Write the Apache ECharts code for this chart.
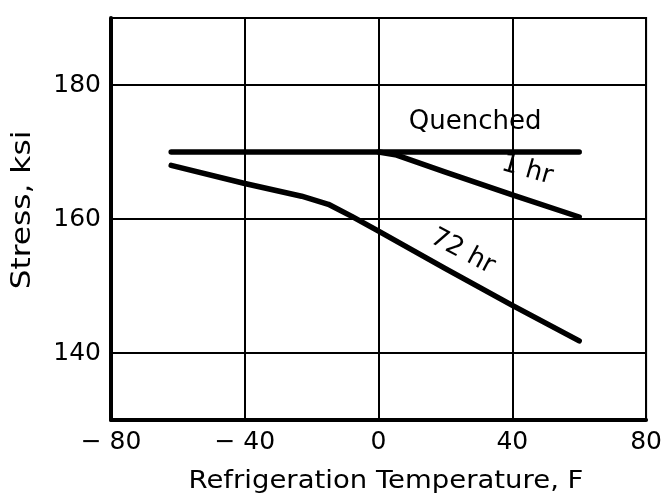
<!DOCTYPE html>
<html>
<head>
<meta charset="utf-8">
<script src="https://cdn.jsdelivr.net/npm/echarts@6/dist/echarts.min.js"></script>
<style>
html,body{margin:0;padding:0;background:#fff;}
#c{width:665px;height:501px;}
</style>
</head>
<body>
<div id="c"></div>
<script>
// ---- data ----
const xTicks = [-80, -40, 0, 40, 80];
const yTickLabels = [140, 160, 180];
const yGridValues = [140, 160, 180];

const tempQuenched = [-62, 0, 60];
const stressQuenched = [170, 170, 170];

const temp1hr = [0, 5, 20, 40, 60];
const stress1hr = [170, 169.6, 167, 163.6, 160.3];

const temp72hr = [-62, -40, -23, -15, -8, 0, 20, 40, 60];
const stress72hr = [168, 165.3, 163.4, 162.2, 160.4, 158.2, 152.6, 147.1, 141.8];

const seriesNames = ['Quenched', '1 hr', '72 hr'];
// label anchors in data coordinates
const labelAnchors = {
  'Quenched': { at: [28.9, 174.5], rotate: 0 },
  '1 hr': { at: [44.4, 167.3], rotate: -16 },
  '72 hr': { at: [25.1, 155.1], rotate: -28 }
};

const FONT = 'DejaVu Sans';
const zip = (xs, ys) => xs.map((x, i) => [x, ys[i]]);

function lineSeries(name, xs, ys, extra) {
  const a = labelAnchors[name];
  return Object.assign({
    name: name,
    type: 'line',
    data: zip(xs, ys),
    showSymbol: false,
    symbol: 'none',
    animation: false,
    lineStyle: { color: '#000', width: 5.5, cap: 'round', join: 'round' },
    markPoint: {
      symbol: 'circle',
      symbolSize: 1,
      itemStyle: { color: 'rgba(0,0,0,0)' },
      silent: true,
      animation: false,
      data: [{ coord: a.at, value: name }],
      label: {
        show: true,
        position: 'inside',
        formatter: name,
        rotate: a.rotate,
        color: '#000',
        fontFamily: FONT,
        fontSize: 26
      }
    }
  }, extra || {});
}

const chart = echarts.init(document.getElementById('c'), null, { renderer: 'canvas' });
chart.setOption({
  backgroundColor: '#fff',
  animation: false,
  grid: {
    left: 111, right: 15, top: 18, bottom: 81,
    show: true, borderColor: '#000', borderWidth: 2, backgroundColor: 'transparent'
  },
  xAxis: {
    type: 'value',
    min: -80, max: 80, interval: 40,
    axisLine: { show: true, onZero: false, lineStyle: { color: '#000', width: 4 } },
    axisTick: { show: false },
    splitLine: { show: true, lineStyle: { color: '#000', width: 2 } },
    axisLabel: {
      color: '#000', fontFamily: FONT, fontSize: 25, margin: 10,
      formatter: v => xTicks.includes(v) ? (v < 0 ? '\u2212 ' + Math.abs(v) : String(v)) : ''
    }
  },
  yAxis: {
    type: 'value',
    min: 130, max: 190, interval: 10,
    axisLine: { show: true, onZero: false, lineStyle: { color: '#000', width: 4 } },
    axisTick: { show: false },
    splitLine: { show: false },
    axisLabel: {
      color: '#000', fontFamily: FONT, fontSize: 25, margin: 10,
      formatter: v => yTickLabels.includes(v) ? String(v) : ''
    }
  },
  graphic: [
    {
      type: 'text', x: 23, y: 210, rotation: Math.PI / 2, scaleX: 1.2,
      style: { text: 'Stress, ksi', fill: '#000', fontFamily: FONT, fontSize: 26, align: 'center', verticalAlign: 'middle' }
    },
    {
      type: 'text', x: 386, y: 481, scaleX: 1.1,
      style: { text: 'Refrigeration Temperature, F', fill: '#000', fontFamily: FONT, fontSize: 25, align: 'center', verticalAlign: 'middle' }
    }
  ],
  series: [
    lineSeries(seriesNames[0], tempQuenched, stressQuenched, {
      markLine: {
        silent: true, symbol: 'none', animation: false,
        label: { show: false },
        lineStyle: { color: '#000', width: 2, type: 'solid' },
        data: yGridValues.map(v => ({ yAxis: v }))
      }
    }),
    lineSeries(seriesNames[1], temp1hr, stress1hr),
    lineSeries(seriesNames[2], temp72hr, stress72hr)
  ]
});
</script>
</body>
</html>
